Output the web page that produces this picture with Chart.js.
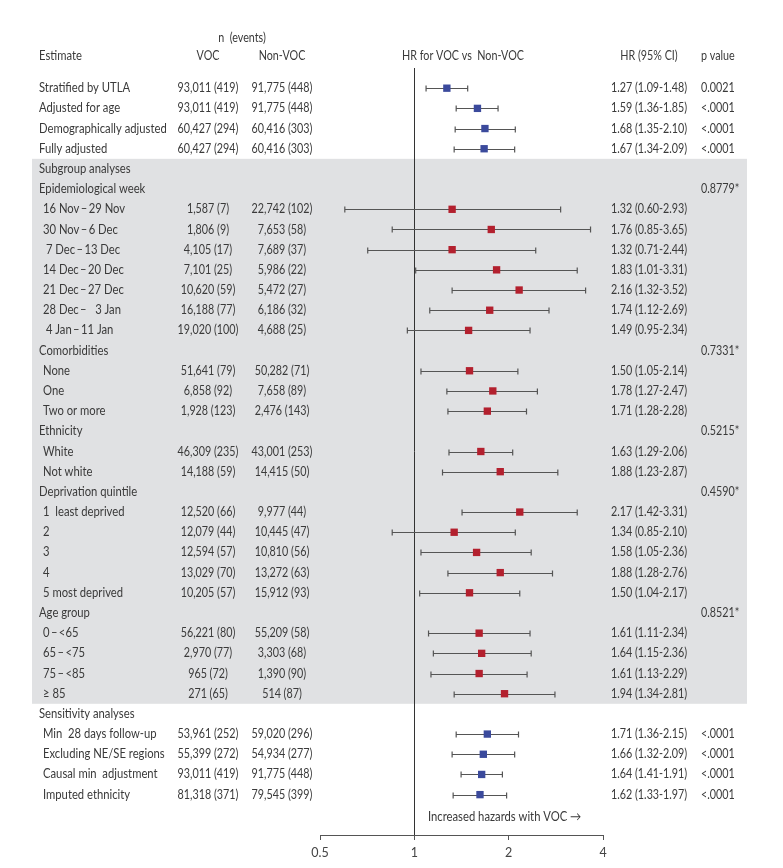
<!DOCTYPE html>
<html>
<head>
<meta charset="utf-8">
<script src="https://cdn.jsdelivr.net/npm/chart.js@4/dist/chart.umd.min.js"></script>
<style>
  html, body { margin: 0; padding: 0; background: #fff; }
  #wrap { width: 783px; height: 868px; }
</style>
</head>
<body>
<div id="wrap"><canvas id="forest" width="783" height="868"></canvas></div>
<script>
// Rows of the table, top to bottom
const rowLabels = [
  'Stratified by UTLA', 'Adjusted for age', 'Demographically adjusted', 'Fully adjusted',
  'Subgroup analyses', 'Epidemiological week',
  '16 Nov\u2009\u2013\u200929 Nov', '30 Nov\u2009\u2013\u20096 Dec', ' 7 Dec\u2009\u2013\u200913 Dec', '14 Dec\u2009\u2013\u200920 Dec',
  '21 Dec\u2009\u2013\u200927 Dec', '28 Dec\u2009\u2013\u2002 3 Jan', ' 4 Jan\u2009\u2013\u200911 Jan',
  'Comorbidities', 'None', 'One', 'Two or more',
  'Ethnicity', 'White', 'Not white',
  'Deprivation quintile', '1  least deprived', '2', '3', '4', '5 most deprived',
  'Age group', '0\u2009\u2013\u2009<65', '65\u2009\u2013\u2009<75', '75\u2009\u2013\u2009<85', '\u2265 85',
  'Sensitivity analyses', 'Min  28 days follow-up', 'Excluding NE/SE regions', 'Causal min  adjustment', 'Imputed ethnicity'
];
// rows that are section headings (no indent)
const headingRows = [0, 1, 2, 3, 4, 5, 13, 17, 20, 26, 31];

const vocN     = [93011, 93011, 60427, 60427, null, null, 1587, 1806, 4105, 7101, 10620, 16188, 19020, null, 51641, 6858, 1928, null, 46309, 14188, null, 12520, 12079, 12594, 13029, 10205, null, 56221, 2970, 965, 271, null, 53961, 55399, 93011, 81318];
const vocEv    = [419, 419, 294, 294, null, null, 7, 9, 17, 25, 59, 77, 100, null, 79, 92, 123, null, 235, 59, null, 66, 44, 57, 70, 57, null, 80, 77, 72, 65, null, 252, 272, 419, 371];
const nonVocN  = [91775, 91775, 60416, 60416, null, null, 22742, 7653, 7689, 5986, 5472, 6186, 4688, null, 50282, 7658, 2476, null, 43001, 14415, null, 9977, 10445, 10810, 13272, 15912, null, 55209, 3303, 1390, 514, null, 59020, 54934, 91775, 79545];
const nonVocEv = [448, 448, 303, 303, null, null, 102, 58, 37, 22, 27, 32, 25, null, 71, 89, 143, null, 253, 50, null, 44, 47, 56, 63, 93, null, 58, 68, 90, 87, null, 296, 277, 448, 399];

const hr  = [1.27, 1.59, 1.68, 1.67, null, null, 1.32, 1.76, 1.32, 1.83, 2.16, 1.74, 1.49, null, 1.50, 1.78, 1.71, null, 1.63, 1.88, null, 2.17, 1.34, 1.58, 1.88, 1.50, null, 1.61, 1.64, 1.61, 1.94, null, 1.71, 1.66, 1.64, 1.62];
const ciLo = [1.09, 1.36, 1.35, 1.34, null, null, 0.60, 0.85, 0.71, 1.01, 1.32, 1.12, 0.95, null, 1.05, 1.27, 1.28, null, 1.29, 1.23, null, 1.42, 0.85, 1.05, 1.28, 1.04, null, 1.11, 1.15, 1.13, 1.34, null, 1.36, 1.32, 1.41, 1.33];
const ciHi = [1.48, 1.85, 2.10, 2.09, null, null, 2.93, 3.65, 2.44, 3.31, 3.52, 2.69, 2.34, null, 2.14, 2.47, 2.28, null, 2.06, 2.87, null, 3.31, 2.10, 2.36, 2.76, 2.17, null, 2.34, 2.36, 2.29, 2.81, null, 2.15, 2.09, 1.91, 1.97];
const pValues = ['0.0021', '<.0001', '<.0001', '<.0001', '', '0.8779*', '', '', '', '', '', '', '', '0.7331*', '', '', '', '0.5215*', '', '', '0.4590*', '', '', '', '', '', '0.8521*', '', '', '', '', '', '<.0001', '<.0001', '<.0001', '<.0001'];

// subgroup rows (red, on grey band) vs overall / sensitivity rows (blue)
const subgroupFirst = 4, subgroupLast = 30;
const xTicks = [0.5, 1, 2, 4];

const BLUE = '#3b4a9c';
const RED = '#b3202e';
const TEXT = '#3a3a3a';
const FONT = '12.5px Lato';
const SQ_LABEL = 0.9;   // original face is narrower than Lato
const SQ_NUM = 0.86;

function fmtN(n, e) {
  return n.toLocaleString('en-US') + ' (' + e + ')';
}

function pointsFor(inSub) {
  const pts = [];
  hr.forEach((v, i) => {
    if (v === null) return;
    const sub = i >= subgroupFirst && i <= subgroupLast;
    if (sub === inSub) pts.push({ x: v, y: i });
  });
  return pts;
}

// text squeezed horizontally around its anchor
function txt(ctx, s, x, y, align, sx) {
  ctx.save();
  ctx.translate(x, y);
  ctx.scale(sx, 1);
  ctx.textAlign = align;
  ctx.fillText(s, 0, 0);
  ctx.restore();
}

// draws the grey band, reference line, CIs and all the table text
const forestPlugin = {
  id: 'forest',
  beforeDatasetsDraw(chart) {
    const { ctx, scales: { x, y }, chartArea } = chart;
    ctx.save();
    // grey band behind subgroup analyses
    const top = y.getPixelForValue(subgroupFirst - 0.5);
    const bot = y.getPixelForValue(subgroupLast + 0.5);
    ctx.fillStyle = '#e0e1e3';
    ctx.fillRect(32, top, 715, bot - top);

    // line of no effect
    const x1 = Math.round(x.getPixelForValue(1)) + 0.5;
    ctx.strokeStyle = '#333';
    ctx.lineWidth = 1;
    ctx.beginPath();
    ctx.moveTo(x1, chartArea.top);
    ctx.lineTo(x1, chartArea.bottom);
    ctx.stroke();

    // confidence intervals
    ctx.strokeStyle = '#555';
    ctx.lineWidth = 1.2;
    hr.forEach((v, i) => {
      if (v === null) return;
      const py = Math.round(y.getPixelForValue(i)) + 0.5;
      const a = x.getPixelForValue(ciLo[i]);
      const b = x.getPixelForValue(ciHi[i]);
      ctx.beginPath();
      ctx.moveTo(a, py); ctx.lineTo(b, py);
      ctx.moveTo(a, py - 3); ctx.lineTo(a, py + 3);
      ctx.moveTo(b, py - 3); ctx.lineTo(b, py + 3);
      ctx.stroke();
    });
    ctx.restore();
  },
  afterDraw(chart) {
    const { ctx, scales: { y } } = chart;
    ctx.save();
    ctx.font = FONT;
    ctx.fillStyle = TEXT;
    ctx.textBaseline = 'middle';

    // headers
    txt(ctx, 'n  (events)', 242, y.getPixelForValue(-2.5), 'center', SQ_NUM);
    const hy = y.getPixelForValue(-1.6);
    txt(ctx, 'VOC', 208, hy, 'center', SQ_NUM);
    txt(ctx, 'Non-VOC', 282, hy, 'center', SQ_NUM);
    txt(ctx, 'HR for VOC vs  Non-VOC', 463, hy, 'center', SQ_NUM);
    txt(ctx, 'HR (95% CI)', 649, hy, 'center', SQ_NUM);
    txt(ctx, 'Estimate', 39, hy, 'left', SQ_LABEL);
    txt(ctx, 'p value', 701, hy, 'left', SQ_NUM);

    rowLabels.forEach((lab, i) => {
      const py = y.getPixelForValue(i);
      txt(ctx, lab, headingRows.includes(i) ? 39 : 43, py, 'left', SQ_LABEL);
      if (vocN[i] !== null) {
        txt(ctx, fmtN(vocN[i], vocEv[i]), 208, py, 'center', SQ_NUM);
        txt(ctx, fmtN(nonVocN[i], nonVocEv[i]), 282, py, 'center', SQ_NUM);
      }
      if (hr[i] !== null) {
        txt(ctx, hr[i].toFixed(2) + ' (' + ciLo[i].toFixed(2) + '-' + ciHi[i].toFixed(2) + ')', 611, py, 'left', SQ_NUM);
      }
      if (pValues[i]) txt(ctx, pValues[i], 701, py, 'left', SQ_NUM);
    });

    txt(ctx, 'Increased hazards with VOC \u2192', 428, y.getPixelForValue(36.1), 'left', SQ_LABEL);
    ctx.restore();
  }
};

new Chart(document.getElementById('forest'), {
  type: 'scatter',
  data: {
    datasets: [
      {
        label: 'Overall',
        data: pointsFor(false),
        pointStyle: 'rect',
        radius: 5.2,
        backgroundColor: BLUE,
        borderColor: BLUE,
        borderWidth: 0
      },
      {
        label: 'Subgroup',
        data: pointsFor(true),
        pointStyle: 'rect',
        radius: 5.2,
        backgroundColor: RED,
        borderColor: RED,
        borderWidth: 0
      }
    ]
  },
  options: {
    responsive: false,
    animation: false,
    events: [],
    layout: { padding: { left: 320, right: 180, top: 68, bottom: 0 } },
    scales: {
      x: {
        type: 'logarithmic',
        min: 0.5,
        max: 4,
        afterBuildTicks: (scale) => { scale.ticks = xTicks.map(v => ({ value: v })); },
        afterFit: (scale) => { scale.height = 33; },
        grid: { drawOnChartArea: false, drawTicks: true, tickLength: 5, color: '#555' },
        border: { display: true, color: '#555' },
        ticks: {
          autoSkip: false,
          maxRotation: 0,
          padding: 5,
          color: '#444',
          font: { family: 'Lato', size: 12.5 },
          callback: (v) => String(v)
        }
      },
      y: {
        type: 'linear',
        display: false,
        reverse: true,
        min: -1,
        max: 37
      }
    },
    plugins: {
      legend: { display: false },
      tooltip: { enabled: false }
    }
  },
  plugins: [forestPlugin]
});
</script>
</body>
</html>
